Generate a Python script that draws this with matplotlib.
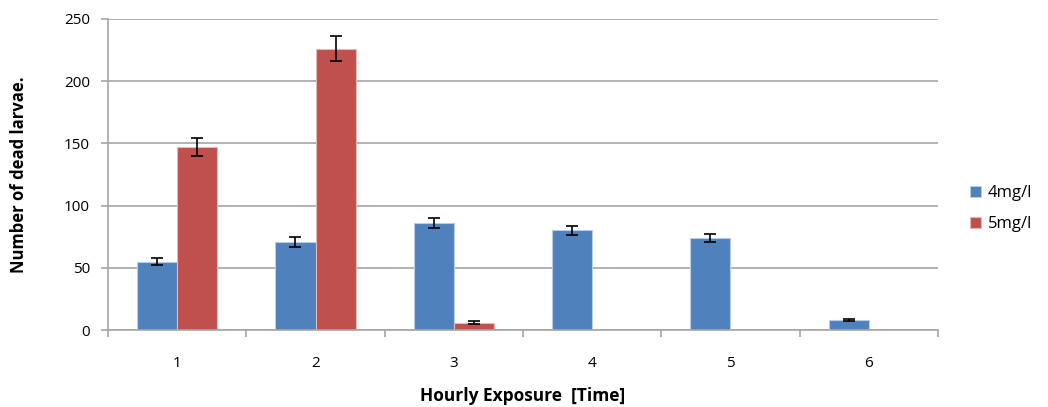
import matplotlib.pyplot as plt
import numpy as np

plt.rcParams['font.family'] = ['Open Sans', 'DejaVu Sans']

hours = ['1', '2', '3', '4', '5', '6']
dose4 = [55, 71, 86, 80, 74, 8]
dose4_err = [3, 4, 4, 4, 3.5, 1]
dose5 = [147, 226, 6, 0, 0, 0]
dose5_err = [7, 10, 1, 0, 0, 0]

blue = '#4f81bd'
red = '#c0504d'
grid_col = '#a6a6a6'

fig = plt.figure(figsize=(10.48, 4.07), dpi=100)
ax = fig.add_axes([108 / 1048, 77 / 407, 830 / 1048, 311 / 407])

x = np.arange(len(hours))
w = 0.29
ax.bar(x - w / 2, dose4, w, color=blue, edgecolor='#b9cde5', linewidth=0.8,
       label='4mg/l', zorder=2)
ax.bar(x + w / 2, dose5, w, color=red, edgecolor='#e6b9b8', linewidth=0.8,
       label='5mg/l', zorder=2)
ax.errorbar(x - w / 2, dose4, yerr=dose4_err, fmt='none', ecolor='black',
            elinewidth=1.2, capsize=4, capthick=1.2, zorder=3)
ax.errorbar([x[i] + w / 2 for i in range(3)], dose5[:3], yerr=dose5_err[:3],
            fmt='none', ecolor='black', elinewidth=1.2, capsize=4, capthick=1.2,
            zorder=3)

ax.set_xlim(-0.5, len(hours) - 0.5)
ax.set_ylim(0, 250)
ax.set_yticks(range(0, 251, 50))
ax.set_xticks(x)
ax.set_xticklabels(hours)
ax.set_xticks(np.arange(-0.5, len(hours), 1), minor=True)
ax.tick_params(axis='x', which='major', length=0, pad=19, labelsize=11)
ax.tick_params(axis='x', which='minor', length=5, color=grid_col, width=1.2)
ax.tick_params(axis='y', length=5, color=grid_col, width=1.2, labelsize=11, pad=8)

ax.yaxis.grid(True, color=grid_col, linewidth=1.2, zorder=0)
ax.set_axisbelow(True)
for s in ['top', 'right']:
    ax.spines[s].set_visible(False)
for s in ['left', 'bottom']:
    ax.spines[s].set_color(grid_col)
    ax.spines[s].set_linewidth(1.2)

ax.set_xlabel('Hourly Exposure  [Time]', fontsize=12.5, fontweight='bold', labelpad=11)
ax.set_ylabel('Number of dead larvae.', fontsize=12, fontweight='bold', labelpad=26)

ax.legend(loc='center left', bbox_to_anchor=(1.02, 0.39), frameon=False,
          fontsize=12, handlelength=0.7, handleheight=0.7, labelspacing=0.9,
          handletextpad=0.4)

fig.savefig('out.png', dpi=100)
